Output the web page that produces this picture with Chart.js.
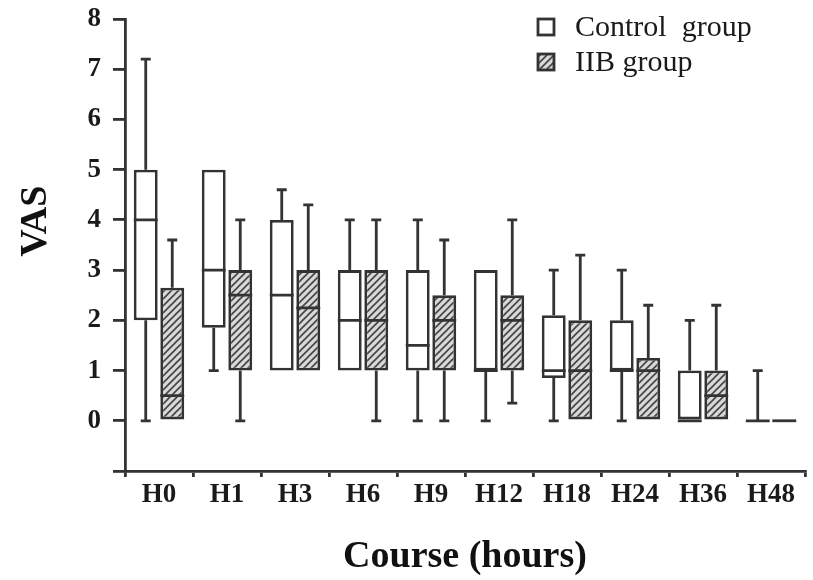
<!DOCTYPE html>
<html>
<head>
<meta charset="utf-8">
<script src="https://cdn.jsdelivr.net/npm/chart.js@4.4.1/dist/chart.umd.min.js"></script>
<style>
  html, body { margin: 0; padding: 0; background: #fff; }
</style>
</head>
<body>
<canvas id="vasChart" width="813" height="580"></canvas>
<script>
var hours = ["H0", "H1", "H3", "H6", "H9", "H12", "H18", "H24", "H36", "H48"];
var groupNames = ["Control  group", "IIB group"];
var yTicks = [0, 1, 2, 3, 4, 5, 6, 7, 8];

// control group (whisker low, q1, median, q3, whisker high)
var ctrlMin = [0, 1, 1, 1, 0, 0, 0, 0, 0, 0];
var ctrlQ1  = [2, 1.85, 1, 1, 1, 1, 0.85, 1, 0, 0];
var ctrlMed = [4, 3, 2.5, 2, 1.5, 1, 1, 1, 0, 0];
var ctrlQ3  = [5, 5, 4, 3, 3, 3, 2.1, 2, 1, 0];
var ctrlMax = [7.2, 5, 4.6, 4, 4, 3, 3, 3, 2, 1];

// IIB group
var iibMin = [0, 0, 1, 0, 0, 0.35, 0, 0, 0, 0];
var iibQ1  = [0, 1, 1, 1, 1, 1, 0, 0, 0, 0];
var iibMed = [0.5, 2.5, 2.25, 2, 2, 2, 1, 1, 0.5, 0];
var iibQ3  = [2.65, 3, 3, 3, 2.5, 2.5, 2, 1.25, 1, 0];
var iibMax = [3.6, 4, 4.3, 4, 3.6, 4, 3.3, 2.3, 2.3, 0];

var lineColor = '#333';
var serif = '"Liberation Serif", "DejaVu Serif", serif';

// diagonal hatch for the IIB boxes
function makeHatch() {
    var c = document.createElement('canvas');
    c.width = 7; c.height = 7;
    var g = c.getContext('2d');
    g.fillStyle = '#d8d8d8';
    g.fillRect(0, 0, 7, 7);
    g.strokeStyle = '#444';
    g.lineWidth = 1.6;
    g.beginPath();
    g.moveTo(-1, 8); g.lineTo(8, -1);
    g.moveTo(-1, 1); g.lineTo(1, -1);
    g.moveTo(6, 8); g.lineTo(8, 6);
    g.stroke();
    return g.createPattern(c, 'repeat');
}
var hatch = makeHatch();

function boxes(q1, q3) {
    return q1.map(function (v, i) { return [v, q3[i]]; });
}

var whiskers = {
    id: 'whiskers',
    afterDatasetsDraw: function (chart) {
        var ctx = chart.ctx, y = chart.scales.y;
        chart.data.datasets.forEach(function (ds, di) {
            chart.getDatasetMeta(di).data.forEach(function (bar, i) {
                var x = bar.x, half = bar.width / 2, cap = 5;
                var pairs = [[ds.data[i][1], ds.whiskerHigh[i]], [ds.data[i][0], ds.whiskerLow[i]]];
                ctx.save();
                ctx.strokeStyle = lineColor;
                ctx.lineWidth = 2.8;
                ctx.beginPath();
                pairs.forEach(function (p) {
                    if (p[0] === p[1]) return;
                    var y0 = y.getPixelForValue(p[0]), y1 = y.getPixelForValue(p[1]);
                    ctx.moveTo(x, y0); ctx.lineTo(x, y1);
                    ctx.moveTo(x - cap, y1); ctx.lineTo(x + cap, y1);
                });
                var ym = y.getPixelForValue(ds.median[i]);
                ctx.moveTo(x - half, ym); ctx.lineTo(x + half, ym);
                ctx.stroke();
                ctx.restore();
            });
        });
    }
};

var boxLegend = {
    id: 'boxLegend',
    afterDraw: function (chart) {
        var ctx = chart.ctx;
        ctx.save();
        chart.data.datasets.forEach(function (ds, i) {
            var top = 19 + i * 35;
            ctx.fillStyle = ds.backgroundColor;
            ctx.fillRect(538, top, 16, 16);
            ctx.strokeStyle = lineColor;
            ctx.lineWidth = 2.8;
            ctx.strokeRect(538, top, 16, 16);
            ctx.fillStyle = '#1a1a1a';
            ctx.font = '30px ' + serif;
            ctx.textBaseline = 'middle';
            ctx.fillText(ds.label, 575, top + 9);
        });
        ctx.restore();
    }
};

var ctx = document.getElementById('vasChart').getContext('2d');
var vasChart = new Chart(ctx, {
    type: 'bar',
    data: {
        labels: hours,
        datasets: [
            {
                label: groupNames[0],
                data: boxes(ctrlQ1, ctrlQ3),
                whiskerLow: ctrlMin,
                median: ctrlMed,
                whiskerHigh: ctrlMax,
                backgroundColor: '#ffffff',
                borderColor: lineColor,
                borderWidth: 2.8,
                borderSkipped: false
            },
            {
                label: groupNames[1],
                data: boxes(iibQ1, iibQ3),
                whiskerLow: iibMin,
                median: iibMed,
                whiskerHigh: iibMax,
                backgroundColor: hatch,
                borderColor: lineColor,
                borderWidth: 2.8,
                borderSkipped: false
            }
        ]
    },
    options: {
        responsive: false,
        animation: false,
        categoryPercentage: 0.78,
        barPercentage: 0.9,
        layout: { padding: { top: 19, right: 8, left: 0, bottom: 0 } },
        scales: {
            x: {
                afterFit: function (s) { s.height = 109; },
                grid: { drawOnChartArea: false, tickLength: 6, color: lineColor, lineWidth: 2.8 },
                border: { color: lineColor, width: 2.8 },
                ticks: { color: '#1a1a1a', padding: 2, font: { family: serif, size: 27, weight: 'bold' } },
                title: {
                    display: true,
                    text: 'Course (hours)',
                    color: '#111',
                    padding: { top: 0, bottom: 0 },
                    font: { family: serif, size: 38, weight: 'bold' }
                }
            },
            y: {
                min: -1,
                max: 8,
                afterFit: function (s) { s.width = 125; s.paddingTop = 0; },
                afterBuildTicks: function (s) {
                    s.ticks = [-1].concat(yTicks).map(function (v) { return { value: v }; });
                },
                grid: { drawOnChartArea: false, tickLength: 12, color: lineColor, lineWidth: 2.8 },
                border: { color: lineColor, width: 2.8 },
                ticks: {
                    color: '#1a1a1a',
                    padding: 12,
                    font: { family: serif, size: 27, weight: 'bold' },
                    callback: function (v) { return v < 0 ? '' : v; }
                },
                title: {
                    display: true,
                    text: '     VAS',
                    color: '#111',
                    padding: { top: 13, bottom: 0 },
                    font: { family: serif, size: 38, weight: 'bold' }
                }
            }
        },
        plugins: {
            legend: { display: false },
            tooltip: { enabled: false }
        }
    },
    plugins: [whiskers, boxLegend]
});
</script>
</body>
</html>
